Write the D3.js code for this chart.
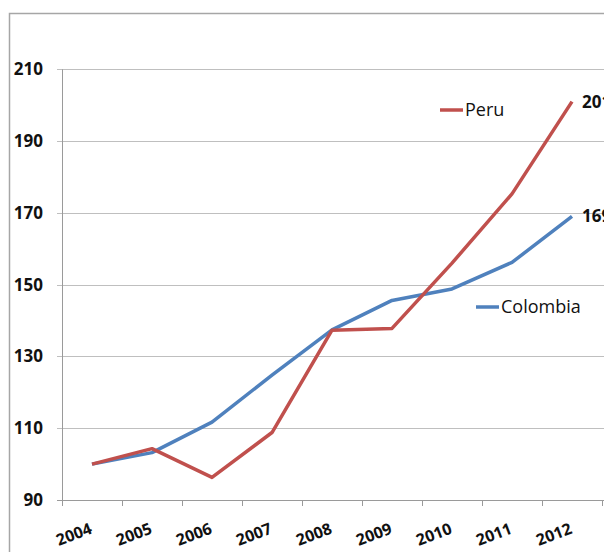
<!DOCTYPE html>
<html>
<head>
<meta charset="utf-8">
<script src="https://cdn.jsdelivr.net/npm/d3@7"></script>
<style>
  body { margin: 0; background: #fff; }
  text { font-family: "Open Sans", "Liberation Sans", sans-serif; }
</style>
</head>
<body>
<svg id="chart" width="604" height="552"></svg>
<script>
// data
var years = ["2004", "2005", "2006", "2007", "2008", "2009", "2010", "2011", "2012"];
var peru = [100, 104.3, 96.3, 108.8, 137.3, 137.8, 156, 175.3, 201];
var colombia = [100, 103.2, 111.7, 124.8, 137.4, 145.6, 148.8, 156.2, 169];
var yTicks = [90, 110, 130, 150, 170, 190, 210];

var svg = d3.select("#chart");
var plotLeft = 62, plotRight = 602, plotTop = 69.3, plotBottom = 500;

// outer chart border
svg.append("path")
  .attr("d", "M9.5,552 L9.5,13.5 L604,13.5")
  .attr("fill", "none")
  .attr("stroke", "#a6a6a6")
  .attr("stroke-width", 1.5);

var x = d3.scaleBand().domain(years).range([plotLeft, plotRight]);
var y = d3.scaleLinear().domain([90, 210]).range([plotBottom, plotTop]);

// gridlines
svg.append("g")
  .selectAll("line")
  .data(yTicks)
  .enter()
  .append("line")
  .attr("x1", plotLeft - 5)
  .attr("x2", 604)
  .attr("y1", function(d) { return Math.round(y(d)) + 0.5; })
  .attr("y2", function(d) { return Math.round(y(d)) + 0.5; })
  .style("stroke", function(d) { return d == 90 ? "#9a9a9a" : "#bfbfbf"; })
  .attr("stroke-width", 1);

// y axis line
svg.append("line")
  .attr("x1", plotLeft + 0.5).attr("x2", plotLeft + 0.5)
  .attr("y1", plotTop).attr("y2", plotBottom)
  .style("stroke", "#9a9a9a");

// y labels
svg.append("g")
  .selectAll("text")
  .data(yTicks)
  .enter()
  .append("text")
  .attr("x", 43)
  .attr("y", function(d) { return y(d) + 6; })
  .attr("text-anchor", "end")
  .attr("font-size", 17)
  .attr("font-weight", "bold")
  .attr("fill", "#111")
  .text(function(d) { return d; });

// x ticks at category boundaries
var bounds = years.map(function(d) { return x(d); }).concat([plotRight]);
svg.append("g")
  .selectAll("line")
  .data(bounds)
  .enter()
  .append("line")
  .attr("x1", function(d) { return Math.round(d) + 0.5; })
  .attr("x2", function(d) { return Math.round(d) + 0.5; })
  .attr("y1", plotBottom)
  .attr("y2", plotBottom + 6)
  .style("stroke", "#9a9a9a");

// x labels, rotated
svg.append("g")
  .selectAll("text")
  .data(years)
  .enter()
  .append("text")
  .attr("transform", function(d) {
    return "translate(" + (x(d) + x.bandwidth() / 2 + 1) + "," + 533 + ") rotate(-21)";
  })
  .attr("text-anchor", "end")
  .attr("font-size", 16)
  .attr("font-weight", "bold")
  .attr("fill", "#111")
  .text(function(d) { return d; });

var line = d3.line()
  .x(function(d, i) { return x(years[i]) + x.bandwidth() / 2; })
  .y(function(d) { return y(d); });

svg.append("path")
  .datum(colombia)
  .attr("d", line)
  .attr("fill", "none")
  .attr("stroke", "#4f81bd")
  .attr("stroke-width", 3.5)
  .attr("stroke-linejoin", "round");

svg.append("path")
  .datum(peru)
  .attr("d", line)
  .attr("fill", "none")
  .attr("stroke", "#c0504d")
  .attr("stroke-width", 3.5)
  .attr("stroke-linejoin", "round");

// end value labels
var lastX = x("2012") + x.bandwidth() / 2;
[[peru, 201], [colombia, 169]].forEach(function(p) {
  svg.append("text")
    .attr("x", lastX + 10)
    .attr("y", y(p[0][p[0].length - 1]) + 6)
    .attr("font-size", 17)
    .attr("font-weight", "bold")
    .attr("fill", "#111")
    .text(p[1]);
});

// legend labels
var legend = [
  {name: "Peru", color: "#c0504d", x: 440, y: 110},
  {name: "Colombia", color: "#4f81bd", x: 476, y: 307}
];
legend.forEach(function(l) {
  svg.append("line")
    .attr("x1", l.x).attr("x2", l.x + 23)
    .attr("y1", l.y).attr("y2", l.y)
    .attr("stroke", l.color)
    .attr("stroke-width", 3.5);
  svg.append("text")
    .attr("x", l.x + 25)
    .attr("y", l.y + 6)
    .attr("font-size", 18)
    .attr("fill", "#111")
    .text(l.name);
});
</script>
</body>
</html>
